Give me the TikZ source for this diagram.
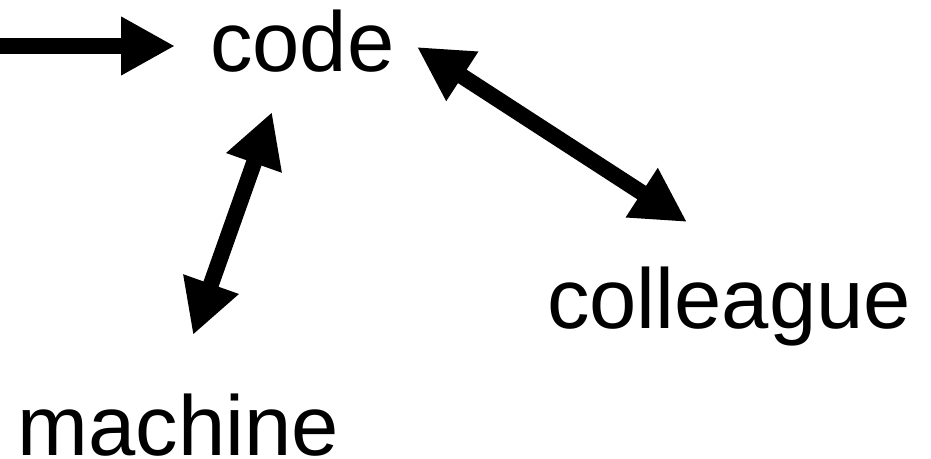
\documentclass[tikz,border=0pt]{standalone}
\usepackage{fontspec}
\setmainfont{Liberation Sans}
\usetikzlibrary{arrows.meta,calc}
\begin{document}
\begin{tikzpicture}[x=1pt,y=1pt,
  lbl/.style={anchor=base west, inner sep=0pt, font=\fontsize{85}{85}\selectfont},
  conn/.style={line width=16pt, -{Triangle[length=54pt,width=55pt]}},
  dconn/.style={line width=16pt, {Triangle[length=54pt,width=55pt]}-{Triangle[length=54pt,width=55pt]}}]
\useasboundingbox (0,0) rectangle (931,458);
\node[lbl] (code) at (210,386) {code};
\node[lbl] (colleague) at (547,130) {colleague};
\node[lbl] (machine) at (17.5,3) {machine};
\coordinate (src) at (0,412);
\draw[conn] (src) -- ($(code.base west)+(-35,26)$);
\draw[dconn] ($(code.base west)+(207,25)$) -- ($(colleague.base west)+(140,106)$);
\draw[dconn] ($(code.base west)+(62,-40)$) -- ($(machine.base west)+(175.5,120)$);
\end{tikzpicture}
\end{document}
